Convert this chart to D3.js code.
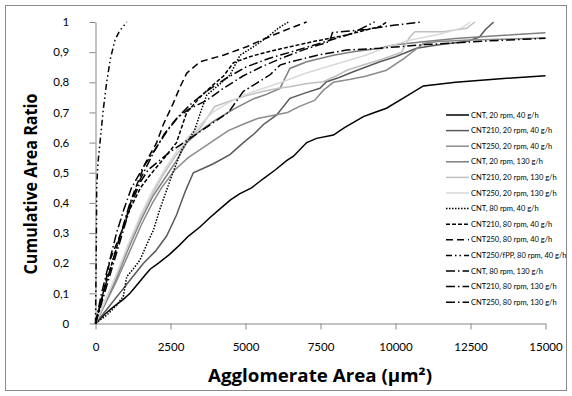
<!DOCTYPE html>
<html>
<head>
<meta charset="utf-8">
<script src="https://cdnjs.cloudflare.com/ajax/libs/d3/7.8.5/d3.min.js"></script>
<style>
  body { margin: 0; background: #fff; }
  svg text { font-family: Lato, "Open Sans", sans-serif; fill: #000; }
  svg text.title { font-family: "Open Sans", Lato, sans-serif; font-weight: bold; }
  .axis path, .axis line { stroke: #868686; }
</style>
</head>
<body>
<script>
// series names (legend order)
var names = [
  "CNT, 20 rpm, 40 g/h", "CNT210, 20 rpm, 40 g/h", "CNT250, 20 rpm, 40 g/h",
  "CNT, 20 rpm, 130 g/h", "CNT210, 20 rpm, 130 g/h", "CNT250, 20 rpm, 130 g/h",
  "CNT, 80 rpm, 40 g/h", "CNT210, 80 rpm, 40 g/h", "CNT250, 80 rpm, 40 g/h",
  "CNT250/fPP, 80 rpm, 40 g/h", "CNT, 80 rpm, 130 g/h", "CNT210, 80 rpm, 130 g/h",
  "CNT250, 80 rpm, 130 g/h"
];

var xTicks = [0, 2500, 5000, 7500, 10000, 12500, 15000];
var yTicks = [0, 0.1, 0.2, 0.3, 0.4, 0.5, 0.6, 0.7, 0.8, 0.9, 1];

// [agglomerate area µm², cumulative ratio]
var cnt20_40 = [[0,0],[300,0.03],[600,0.055],[927,0.08],[1150,0.1],[1400,0.13],[1650,0.16],[1820,0.18],[2100,0.2],[2480,0.23],[2800,0.26],[3100,0.29],[3480,0.32],[3800,0.35],[4150,0.38],[4500,0.41],[4800,0.43],[5200,0.45],[5590,0.48],[6000,0.51],[6370,0.54],[6600,0.555],[7040,0.6],[7370,0.614],[7930,0.625],[8300,0.65],[8930,0.686],[9300,0.7],[9700,0.714],[10300,0.75],[10930,0.788],[12000,0.8],[13500,0.812],[15000,0.822]];
var cnt210_20_40 = [[0,0],[400,0.05],[800,0.1],[1200,0.15],[1600,0.2],[2000,0.24],[2370,0.29],[2700,0.36],[3000,0.44],[3260,0.5],[3600,0.515],[3930,0.53],[4480,0.56],[4930,0.6],[5300,0.63],[5600,0.66],[6040,0.692],[6480,0.747],[7000,0.765],[7480,0.78],[7700,0.802],[8100,0.815],[8590,0.835],[9480,0.868],[10000,0.885],[10700,0.913],[11500,0.925],[12370,0.935],[12800,0.95],[13000,0.975],[13270,1]];
var cnt250_20_40 = [[0,0],[300,0.06],[700,0.14],[1100,0.23],[1540,0.33],[1900,0.4],[2200,0.45],[2650,0.51],[3090,0.55],[3540,0.58],[3980,0.61],[4430,0.64],[4900,0.66],[5400,0.68],[5900,0.69],[6400,0.7],[6800,0.72],[7300,0.74],[7600,0.774],[7930,0.8],[8500,0.81],[9000,0.82],[9700,0.84],[10300,0.88],[10930,0.929],[11400,0.935],[12500,0.94],[15000,0.947]];
var cnt20_130 = [[0,0],[300,0.065],[700,0.15],[1100,0.25],[1500,0.34],[1900,0.42],[2300,0.48],[2700,0.54],[3040,0.6],[3500,0.64],[3930,0.67],[4590,0.71],[5260,0.745],[5700,0.76],[6150,0.78],[6480,0.846],[7040,0.868],[7930,0.89],[8590,0.901],[9480,0.913],[9930,0.924],[11000,0.935],[12000,0.945],[13500,0.955],[15000,0.964]];
var cnt210_20_130 = [[0,0],[300,0.07],[700,0.16],[1100,0.26],[1500,0.35],[1900,0.43],[2300,0.5],[2700,0.56],[3100,0.61],[3500,0.65],[3980,0.72],[4540,0.74],[5000,0.755],[5600,0.77],[6100,0.78],[6480,0.785],[7000,0.795],[7590,0.802],[8000,0.82],[8380,0.84],[9000,0.86],[9480,0.874],[10200,0.9],[10480,0.951],[10650,0.968],[11600,0.968],[12370,0.979],[12650,1]];
var cnt250_20_130 = [[0,0],[300,0.07],[700,0.165],[1100,0.265],[1500,0.36],[1900,0.44],[2300,0.51],[2700,0.57],[3100,0.62],[3500,0.66],[3900,0.7],[4400,0.73],[5000,0.76],[5600,0.78],[6200,0.8],[7000,0.83],[8000,0.86],[9000,0.89],[9800,0.92],[10500,0.94],[11500,0.96],[12200,0.98],[12500,1]];
var cnt80_40 = [[0,0],[400,0.03],[700,0.06],[927,0.09],[1040,0.155],[1250,0.18],[1480,0.21],[1700,0.26],[1930,0.31],[2150,0.38],[2540,0.49],[2870,0.575],[3300,0.64],[3500,0.7],[3710,0.758],[4100,0.79],[4480,0.824],[4820,0.89],[5300,0.92],[5820,0.957],[6100,0.98],[6430,1]];
var cnt210_80_40 = [[0,0],[250,0.1],[550,0.2],[850,0.3],[1150,0.38],[1500,0.45],[1800,0.49],[2300,0.55],[2700,0.6],[3040,0.7],[3480,0.75],[3900,0.79],[4260,0.82],[4600,0.865],[5150,0.885],[5700,0.9],[6480,0.918],[7260,0.935],[8370,0.957],[9480,0.985],[9700,1]];
var cnt250_80_40 = [[0,0],[260,0.1],[480,0.21],[930,0.32],[1260,0.43],[1650,0.53],[2040,0.6],[2260,0.66],[2590,0.73],[2820,0.785],[3040,0.83],[3480,0.868],[4260,0.89],[5040,0.918],[5930,0.957],[6480,0.979],[7040,1]];
var cnt250fpp_80_40 = [[0,0],[10,0.1],[20,0.2],[30,0.3],[40,0.45],[80,0.53],[150,0.6],[260,0.71],[373,0.8],[500,0.88],[650,0.94],[800,0.97],[1040,1]];
var cnt80_130 = [[0,0],[250,0.1],[550,0.2],[850,0.3],[1150,0.4],[1500,0.48],[1900,0.56],[2300,0.63],[2700,0.68],[3100,0.71],[3700,0.74],[4260,0.78],[4900,0.82],[5500,0.85],[6200,0.88],[7000,0.91],[7800,0.935],[7900,0.965],[9000,0.975],[10000,0.99],[10900,1]];
var cnt210_80_130 = [[0,0],[300,0.1],[600,0.2],[900,0.3],[1200,0.4],[1500,0.47],[1760,0.51],[2430,0.565],[3090,0.61],[3760,0.655],[4430,0.7],[4930,0.77],[5820,0.825],[6150,0.857],[6400,0.865],[7400,0.89],[8370,0.907],[9480,0.913],[11000,0.925],[13000,0.937],[15000,0.946]];
var cnt250_80_130 = [[0,0],[200,0.1],[450,0.2],[700,0.3],[950,0.38],[1200,0.45],[1600,0.52],[2000,0.58],[2400,0.64],[2800,0.69],[3200,0.73],[3700,0.77],[4300,0.81],[5000,0.85],[5800,0.88],[6500,0.9],[7500,0.93],[8500,0.96],[9300,1]];

var seriesData = [cnt20_40, cnt210_20_40, cnt250_20_40, cnt20_130, cnt210_20_130, cnt250_20_130,
  cnt80_40, cnt210_80_40, cnt250_80_40, cnt250fpp_80_40, cnt80_130, cnt210_80_130, cnt250_80_130];

// line styles
var colors = ["#000", "#595959", "#8c8c8c", "#7f7f7f", "#bfbfbf", "#d9d9d9",
  "#000", "#000", "#000", "#000", "#000", "#000", "#000"];
var dashes = [null, null, null, null, null, null,
  "1.5,1.5", "4,2", "7,4", "6,3,1.5,3,1.5,3", "9,3,1.5,3", "9,3,1.5,3", "9,3,1.5,3"];

var width = 572, height = 396;
var svg = d3.select("body").append("svg")
  .attr("width", width).attr("height", height);

svg.append("rect")
  .attr("x", 5.5).attr("y", 5.5)
  .attr("width", 561).attr("height", 385)
  .attr("fill", "#fff").attr("stroke", "#8a8a8a");

var x = d3.scaleLinear().domain([0, 15000]).range([95.5, 545.5]);
var y = d3.scaleLinear().domain([0, 1]).range([323.5, 22]);

var xAxis = svg.append("g").attr("class", "axis")
  .attr("transform", "translate(0,323.5)")
  .call(d3.axisBottom(x).tickValues(xTicks).tickSize(6).tickSizeOuter(0).tickFormat(d3.format("d")));
var yAxis = svg.append("g").attr("class", "axis")
  .attr("transform", "translate(95.5,0)")
  .call(d3.axisLeft(y).tickValues(yTicks).tickSize(6).tickSizeOuter(0)
    .tickFormat(function(d){ return String(+d.toFixed(1)).replace(".", ","); }));

xAxis.selectAll("text").attr("font-size", "11.5px").attr("dy", "1.6em");
yAxis.selectAll("text").attr("font-size", "11.5px").attr("dx", "-1.5em");
svg.selectAll(".axis .domain").attr("stroke", "#868686");

var line = d3.line()
  .x(function(d){ return x(d[0]); })
  .y(function(d){ return y(d[1]); });

svg.append("g").selectAll("path")
  .data(seriesData)
  .enter().append("path")
  .attr("d", line)
  .attr("fill", "none")
  .attr("stroke", function(d, i){ return colors[i]; })
  .attr("stroke-width", 1.5)
  .attr("stroke-dasharray", function(d, i){ return dashes[i]; });

// legend
var legend = svg.append("g").selectAll("g")
  .data(names)
  .enter().append("g")
  .attr("transform", function(d, i){ return "translate(446," + (115 + i * 15.6) + ")"; });

legend.append("line")
  .attr("x1", 0).attr("x2", 23)
  .attr("stroke", function(d, i){ return colors[i]; })
  .attr("stroke-width", 1.5)
  .attr("stroke-dasharray", function(d, i){ return dashes[i]; });

legend.append("text")
  .attr("x", 25).attr("dy", "0.35em")
  .attr("font-size", "7.5px")
  .text(function(d){ return d; });

// axis titles
svg.append("text").attr("class", "title")
  .attr("x", 320).attr("y", 382)
  .attr("text-anchor", "middle")
  .attr("font-size", "17px")
  .attr("textLength", 224).attr("lengthAdjust", "spacingAndGlyphs")
  .text("Agglomerate Area (µm²)");

svg.append("text").attr("class", "title")
  .attr("transform", "translate(37,184) rotate(-90)")
  .attr("text-anchor", "middle")
  .attr("font-size", "17px")
  .attr("textLength", 181).attr("lengthAdjust", "spacingAndGlyphs")
  .text("Cumulative Area Ratio");
</script>
</body>
</html>
